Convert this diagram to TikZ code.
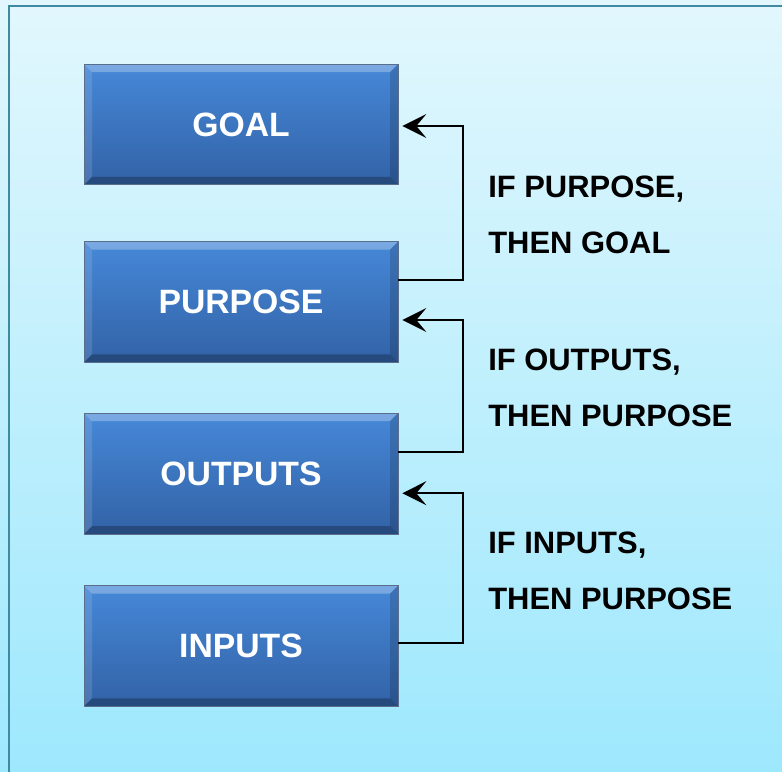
\documentclass[tikz,border=0pt]{standalone}
\usepackage{fontspec}
\setmainfont{Liberation Sans}
\usetikzlibrary{arrows.meta}

\definecolor{bgtop}{RGB}{226,247,253}
\definecolor{bgbot}{RGB}{158,232,253}
\definecolor{framecol}{RGB}{62,138,160}
\definecolor{boxtop}{RGB}{70,136,216}
\definecolor{boxbot}{RGB}{50,98,166}
\definecolor{boxedge}{RGB}{90,110,140}

\tikzset{
  blockbox/.style={rectangle, minimum width=7.85cm, minimum height=3.02cm, inner sep=0pt,
    top color=boxtop, bottom color=boxbot, draw=boxedge, line width=0.5pt,
    text=white, font=\fontsize{24}{28}\selectfont\bfseries,
    path picture={
      \fill[white, opacity=0.28] (path picture bounding box.north west) -- (path picture bounding box.north east)
        -- ([shift={(-0.2,-0.2)}]path picture bounding box.north east) -- ([shift={(0.2,-0.2)}]path picture bounding box.north west) -- cycle;
      \fill[white, opacity=0.12] (path picture bounding box.north west) -- ([shift={(0.2,-0.2)}]path picture bounding box.north west)
        -- ([shift={(0.2,0.2)}]path picture bounding box.south west) -- (path picture bounding box.south west) -- cycle;
      \fill[black, opacity=0.15] (path picture bounding box.north east) -- ([shift={(-0.2,-0.2)}]path picture bounding box.north east)
        -- ([shift={(-0.2,0.2)}]path picture bounding box.south east) -- (path picture bounding box.south east) -- cycle;
      \fill[black, opacity=0.25] (path picture bounding box.south west) -- ([shift={(0.2,0.2)}]path picture bounding box.south west)
        -- ([shift={(-0.2,0.2)}]path picture bounding box.south east) -- (path picture bounding box.south east) -- cycle;
    }},
  labeltext/.style={anchor=west, align=left, inner sep=0pt, text=black,
    font=\fontsize{22}{39.8}\selectfont\bfseries},
  flowarrow/.style={line width=1.4pt, -{Stealth[length=0.6cm, width=0.6cm, inset=0.25cm]}},
}

\begin{document}
\begin{tikzpicture}
  \useasboundingbox (0,0) rectangle (19.55,-19.275);
  \clip (0,0) rectangle (19.55,-19.275);
  % background and frame
  \shade[top color=bgtop, bottom color=bgbot] (0,0) rectangle (19.55,-19.275);
  \draw[framecol, line width=1.6pt] (0.225,-0.15) rectangle (20.5,-20.5);

  % blocks
  \node[blockbox] (goal) at (6.025,-3.11) {GOAL};
  \node[blockbox] (purpose) at (6.025,-7.55) {PURPOSE};
  \node[blockbox] (outputs) at (6.025,-11.84) {OUTPUTS};
  \node[blockbox] (inputs) at (6.025,-16.15) {INPUTS};

  % links
  \draw[flowarrow] ([yshift=0.55cm]purpose.east) -- ++(1.625,0) |- ([xshift=0.1cm,yshift=-0.04cm]goal.east);
  \draw[flowarrow] ([yshift=0.54cm]outputs.east) -- ++(1.625,0) |- ([xshift=0.1cm,yshift=-0.45cm]purpose.east);
  \draw[flowarrow] ([yshift=0.075cm]inputs.east) -- ++(1.625,0) |- ([xshift=0.1cm,yshift=-0.49cm]outputs.east);

  % labels
  \node[labeltext] (lbl1) at (12.2,-5.375) {IF PURPOSE,\\THEN GOAL};
  \node[labeltext] (lbl2) at (12.2,-9.69) {IF OUTPUTS,\\THEN PURPOSE};
  \node[labeltext] (lbl3) at (12.2,-14.26) {IF INPUTS,\\THEN PURPOSE};
\end{tikzpicture}
\end{document}
